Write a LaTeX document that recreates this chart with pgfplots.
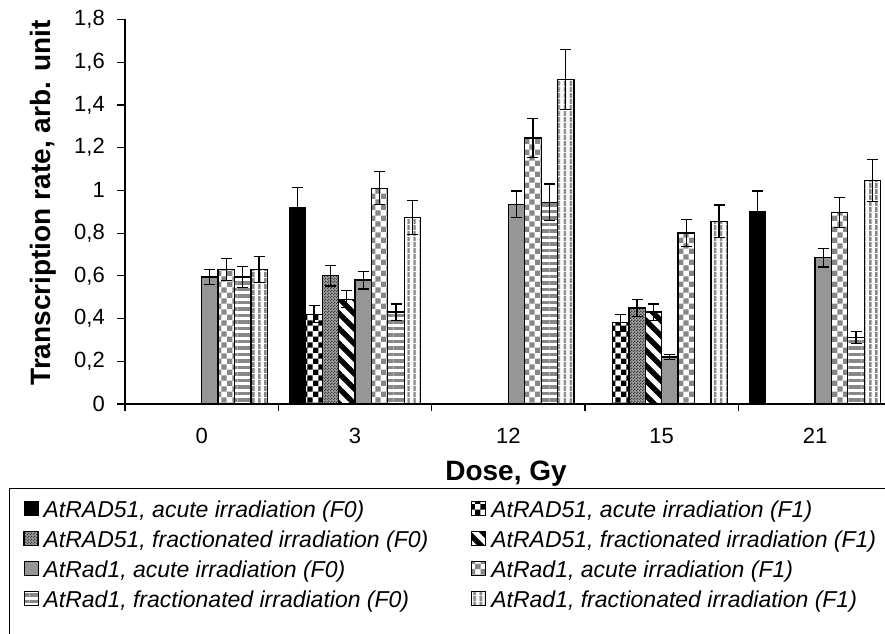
\documentclass[border=0pt]{standalone}
\usepackage{fontspec}
\setmainfont{Liberation Sans}
\usepackage{pgfplots}
\pgfplotsset{compat=1.18}
\usetikzlibrary{patterns,patterns.meta}

\pgfdeclarepatternformonly{bigcheck}{\pgfpointorigin}{\pgfqpoint{10.8bp}{10.8bp}}{\pgfqpoint{10.8bp}{10.8bp}}{%
  \pgfpathrectangle{\pgfpointorigin}{\pgfqpoint{5.4bp}{5.4bp}}%
  \pgfpathrectangle{\pgfqpoint{5.4bp}{5.4bp}}{\pgfqpoint{5.4bp}{5.4bp}}%
  \pgfusepath{fill}}
\pgfdeclarepatternformonly{finecheck}{\pgfpointorigin}{\pgfqpoint{3bp}{3bp}}{\pgfqpoint{3bp}{3bp}}{%
  \pgfpathrectangle{\pgfpointorigin}{\pgfqpoint{1.5bp}{1.5bp}}%
  \pgfpathrectangle{\pgfqpoint{1.5bp}{1.5bp}}{\pgfqpoint{1.5bp}{1.5bp}}%
  \pgfusepath{fill}}

\definecolor{xgray}{RGB}{150,150,150}
\definecolor{sgray}{RGB}{135,135,135}
\definecolor{fgA}{RGB}{160,160,160}
\definecolor{fgB}{RGB}{60,60,60}

\pgfplotsset{
  eb/.style={
    /pgfplots/error bars/y dir=both,
    /pgfplots/error bars/y explicit,
    /pgfplots/error bars/error bar style={line width=1.2bp, black},
    /pgfplots/error bars/error mark options={rotate=90, mark size=5.5bp, line width=1.2bp, black}},
  bs/.style={draw=black, line width=1.3bp},
  s1/.style={bs, fill=black},
  s2/.style={bs, pattern=bigcheck, pattern color=black},
  s3/.style={bs, preaction={fill=fgA}, pattern=finecheck, pattern color=fgB},
  s4/.style={bs, pattern={Lines[angle=-45,distance=10.6bp,line width=5.3bp]}, pattern color=black},
  s5/.style={bs, fill=xgray},
  s6/.style={bs, pattern=bigcheck, pattern color=sgray},
  s7/.style={bs, pattern={Lines[angle=0,distance=6.5bp,line width=3.2bp]}, pattern color=sgray},
  s8/.style={bs, pattern={Lines[angle=90,distance=6bp,line width=3bp]}, pattern color=sgray},
}

\begin{document}
\begin{tikzpicture}
\begin{axis}[
  name=ax,
  width=766.7bp, height=384.5bp, scale only axis,
  xmin=-0.5, xmax=4.5, ymin=0, ymax=1.8,
  clip=false,
  axis x line*=bottom, axis y line*=left,
  axis line style={line width=1.3bp, black},
  ybar=0pt, bar width=16.4bp,
  xtick={0,1,2,3,4}, xticklabels={0,3,12,15,21},
  minor xtick={-0.5,0.5,1.5,2.5,3.5,4.5},
  ytick={0,0.2,0.4,0.6,0.8,1,1.2,1.4,1.6,1.8},
  yticklabels={0,{0,2},{0,4},{0,6},{0,8},1,{1,2},{1,4},{1,6},{1,8}},
  tick align=outside, major tick length=8bp, minor tick length=7bp,
  major x tick style={draw=none},
  tick style={line width=1.2bp, black},
  /pgf/number format/assume math mode=true,
  tick label style={font=\fontsize{22bp}{25bp}\selectfont},
  xticklabel style={anchor=north, inner sep=0pt, yshift=-16bp},
  yticklabel style={anchor=east, inner sep=0pt, xshift=-12bp},
  ylabel={Transcription rate, arb. unit},
  xlabel={Dose, Gy},
  label style={font=\fontsize{28bp}{31bp}\selectfont\bfseries},
  ylabel style={at={(rel axis cs:-0.107,0.523)}, anchor=center},
  xlabel style={at={(rel axis cs:0.497,-0.198)}, anchor=base},
  legend columns=2,
  legend cell align=left,
  legend image code/.code={\draw[#1, line width=1bp] (0bp,-5.5bp) rectangle (14bp,8.5bp);},
  legend style={name=leg, at={(rel axis cs:-0.1513,-0.2185)}, anchor=north west,
    draw=black, line width=1.2bp, inner xsep=14bp, inner ysep=12.5bp,
    row sep=11.7bp,
    font=\fontsize{23bp}{26bp}\selectfont\itshape,
    nodes={inner sep=0pt},
    /tikz/every odd column/.append style={column sep=0bp},
    /tikz/every even column/.append style={column sep=43bp}},
]
\addplot[s1, eb] table[x=x, y=y, y error=e] {
x y e
1 0.92 0.095
4 0.90 0.097
};
\addlegendentry{\hspace{5bp}AtRAD51, acute irradiation (F0)}
\addplot[s2, eb] table[x=x, y=y, y error=e] {
x y e
1 0.42 0.04
3 0.38 0.04
};
\addlegendentry{\hspace{5bp}AtRAD51, acute irradiation (F1)}
\addplot[s3, eb] table[x=x, y=y, y error=e] {
x y e
1 0.60 0.048
3 0.45 0.04
};
\addlegendentry{\hspace{5bp}AtRAD51, fractionated irradiation (F0)}
\addplot[s4, eb] table[x=x, y=y, y error=e] {
x y e
1 0.49 0.04
3 0.43 0.038
};
\addlegendentry{\hspace{5bp}AtRAD51, fractionated irradiation (F1)}
\addplot[s5, eb] table[x=x, y=y, y error=e] {
x y e
0 0.595 0.035
1 0.58 0.042
2 0.935 0.062
3 0.22 0.013
4 0.685 0.044
};
\addlegendentry{\hspace{5bp}AtRad1, acute irradiation (F0)}
\addplot[s6, eb] table[x=x, y=y, y error=e] {
x y e
0 0.63 0.05
1 1.01 0.077
2 1.245 0.09
3 0.80 0.063
4 0.895 0.07
};
\addlegendentry{\hspace{5bp}AtRad1, acute irradiation (F1)}
\addplot[s7, eb] table[x=x, y=y, y error=e] {
x y e
0 0.595 0.05
1 0.43 0.038
2 0.944 0.086
4 0.31 0.028
};
\addlegendentry{\hspace{5bp}AtRad1, fractionated irradiation (F0)}
\addplot[s8, eb] table[x=x, y=y, y error=e] {
x y e
0 0.63 0.06
1 0.873 0.08
2 1.52 0.14
3 0.855 0.077
4 1.047 0.098
};
\addlegendentry{\hspace{5bp}AtRad1, fractionated irradiation (F1)}
\end{axis}
\ifcsname pgf@sh@ns@leg\endcsname
  \draw[white, line width=3bp] ([xshift=1.5bp]leg.south west) -- ([xshift=-1.5bp]leg.south east);
  \draw[black, line width=1.2bp] ([xshift=0.6bp,yshift=3bp]leg.south west) -- ++(0,-30bp);
\fi
\pgfresetboundingbox
\path[use as bounding box] ([shift={(-125bp,-230bp)}]ax.south west) rectangle ([shift={(760bp,404bp)}]ax.south west);
\end{tikzpicture}
\end{document}
